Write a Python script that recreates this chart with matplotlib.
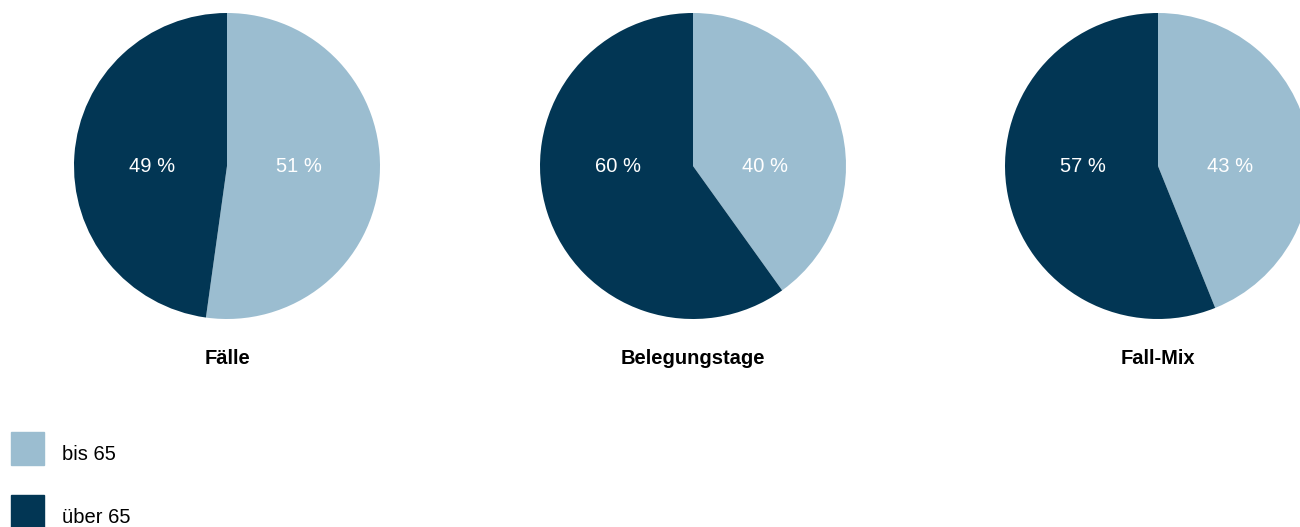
import matplotlib
matplotlib.use('Agg')
import matplotlib.pyplot as plt

plt.rcParams['font.family'] = ['Liberation Sans', 'DejaVu Sans']

titles = ['Fälle', 'Belegungstage', 'Fall-Mix']
# slice shares
bis65 = [52.2, 40.1, 43.9]
ueber65 = [47.8, 59.9, 56.1]
# percentages as printed in the slices
bis65_labels = [51, 40, 43]
ueber65_labels = [49, 60, 57]
series = ['bis 65', 'über 65']
colors = ['#9bbdd0', '#023654']

W, H = 1300, 527
centers_x = [227, 693, 1158]
center_y = H - 166
radius = 153


def main():
    fig = plt.figure(figsize=(W / 100, H / 100), dpi=100)
    ax = fig.add_axes([0, 0, 1, 1])

    for cx, title, a, b, la, lb in zip(centers_x, titles, bis65, ueber65,
                                       bis65_labels, ueber65_labels):
        ax.pie([a, b], colors=colors, startangle=90, counterclock=False,
               center=(cx, center_y), radius=radius, frame=True)
        ax.text(cx + 72, center_y, '%d %%' % la, color='white',
                ha='center', va='center', fontsize=14.5)
        ax.text(cx - 75, center_y, '%d %%' % lb, color='white',
                ha='center', va='center', fontsize=14.5)
        ax.text(cx, H - 358, title, ha='center', va='center',
                fontsize=14.5, fontweight='bold')

    ax.set_xlim(0, W)
    ax.set_ylim(0, H)
    ax.set_aspect('equal')
    ax.axis('off')

    for i, (label, c) in enumerate(zip(series, colors)):
        y = H - 448.5 - i * 63
        ax.add_patch(plt.Rectangle((11, y - 16.5), 33, 33, color=c))
        ax.text(62, y - 6, label, ha='left', va='center', fontsize=14.5)

    fig.savefig('out.png', dpi=100)


if __name__ == '__main__':
    main()
